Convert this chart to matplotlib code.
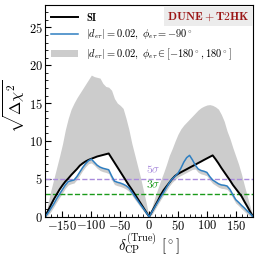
import numpy as np
import matplotlib
matplotlib.use("Agg")
import matplotlib.pyplot as plt
from matplotlib.ticker import MultipleLocator, FuncFormatter

plt.rcParams['mathtext.fontset'] = 'cm'
plt.rcParams['font.family'] = 'serif'
plt.rcParams['font.serif'] = ['DejaVu Serif']

# delta_CP grid (deg)
dcp = np.arange(-180, 181, 5)

# standard interactions
si = [0, 0.8, 1.55, 2.3, 2.95, 3.6, 4.15, 4.65, 5.05, 5.5, 5.9, 6.3, 6.75, 7.05, 7.3, 7.5,
      7.65, 7.8, 7.95, 8.05, 8.15, 8.25, 8.35, 7.75, 7.15, 6.55, 5.95, 5.35, 4.75, 4.15,
      3.6, 3.0, 2.4, 1.8, 1.2, 0.6, 0,
      0.7, 1.4, 2.1, 2.85, 3.5, 4.0, 4.5, 5.0, 5.4, 5.66, 5.87, 6.07, 6.27, 6.48, 6.68,
      6.88, 7.09, 7.29, 7.5, 7.7, 7.9, 8.1, 7.6, 7.05, 6.45, 5.9, 5.35, 4.8, 4.2, 3.7,
      3.2, 2.7, 2.0, 1.35, 0.65, 0]

# |d_etau| = 0.02, phi = -90
nsi = [0, 0.5, 1.1, 1.7, 2.4, 3.0, 3.6, 4.2, 4.65, 4.75, 4.85, 5.3, 5.9, 6.5, 7.0, 7.4,
       7.6, 7.2, 6.8, 6.55, 6.4, 6.3, 6.2, 5.4, 4.7, 4.55, 4.45, 4.3, 4.1, 3.8,
       3.25, 2.7, 2.15, 1.6, 1.1, 0.55, 0,
       0.65, 1.3, 1.95, 2.6, 3.2, 3.85, 4.5, 5.0, 5.35, 5.75, 6.4, 7.2, 7.8, 8.1, 7.5,
       6.8, 6.3, 6.1, 6.0, 5.85, 5.3, 4.85, 4.6, 4.35, 4.2, 4.15, 4.05, 3.6, 2.9, 2.25,
       1.9, 1.5, 1.15, 0.75, 0.4, 0]

# phi in [-180, 180] band
band_hi = [0, 1.8, 3.5, 5.0, 6.5, 8.0, 9.6, 11.5, 13.0, 14.2, 15.0, 15.7, 16.3, 16.9, 17.5,
           18.1, 18.7, 18.5, 18.4, 18.3, 17.6, 17.2, 17.1, 16.7, 15.6, 15.0, 14.7, 14.3,
           13.0, 11.5, 9.7, 8.2, 6.7, 5.2, 3.5, 1.8, 0,
           1.3, 2.6, 3.7, 4.8, 5.8, 6.9, 8.1, 9.0, 10.0, 10.9, 11.6, 12.1, 12.5, 12.9, 13.3,
           13.7, 14.1, 14.4, 14.6, 14.75, 14.8, 14.7, 14.5, 14.2, 13.5, 12.6, 11.3, 10.3,
           9.1, 8.0, 6.9, 5.6, 4.1, 2.7, 1.3, 0]
band_lo = [0, 0.2, 0.7, 1.3, 1.95, 2.55, 3.15, 3.75, 4.2, 4.35, 4.45, 4.9, 5.5, 6.1, 6.6,
           7.0, 7.1, 6.8, 6.4, 6.1, 5.95, 5.85, 5.7, 4.9, 4.25, 4.1, 4.0, 3.85, 3.65, 3.35,
           2.85, 2.3, 1.8, 1.25, 0.75, 0.3, 0,
           0.3, 0.95, 1.6, 2.25, 2.85, 3.45, 4.05, 4.55, 4.9, 5.25, 5.45, 5.65, 5.85, 6.05,
           6.25, 6.3, 5.85, 5.65, 5.55, 5.4, 4.85, 4.4, 4.15, 3.9, 3.75, 3.7, 3.6, 3.15,
           2.45, 1.8, 1.45, 1.05, 0.7, 0.35, 0.1, 0]

si = np.array(si)
nsi = np.array(nsi)

fig = plt.figure(figsize=(2.58, 2.58), dpi=100)
ax = fig.add_axes([0.175, 0.16, 0.806, 0.822])

band = ax.fill_between(dcp, band_lo, band_hi, color='#cccccc', lw=0,
                       label=r'$|d_{e\tau}| = 0.02,\ \phi_{e\tau} \in [-180^\circ, 180^\circ]$')
ax.fill_between(dcp, nsi, si, where=si > nsi, color='white', lw=0, interpolate=True)

ax.axhline(5, color='#a98bdc', ls='--', lw=1)
ax.axhline(3, color='#1a9a1a', ls='--', lw=1)
ax.text(8, 5.4, r'$5\sigma$', color='#a98bdc', fontsize=8.5, ha='center', va='bottom')
ax.text(8, 3.4, r'$3\sigma$', color='#1a9a1a', fontsize=8.5, ha='center', va='bottom')

l1, = ax.plot(dcp, si, color='black', lw=1.4, label=r'$\mathbf{SI}$')
l2, = ax.plot(dcp, nsi, color='#2f7fc1', lw=1.1,
              label=r'$|d_{e\tau}| = 0.02,\ \phi_{e\tau} = -90^\circ$')

ax.legend(handles=[l1, l2, band], loc='upper left', fontsize=7.5, frameon=False,
          handlelength=2.6, handletextpad=0.7, labelspacing=0.5, borderaxespad=0.2)

ax.text(0.985, 0.975, r'$\mathbf{DUNE+T2HK}$', transform=ax.transAxes, ha='right', va='top',
        fontsize=8.5, color='#9b1515',
        bbox=dict(facecolor='#ececec', edgecolor='none', pad=2.5))

ax.set_xlim(-180, 180)
ax.set_ylim(0, 28)
ax.xaxis.set_major_locator(MultipleLocator(50))
ax.xaxis.set_minor_locator(MultipleLocator(10))
ax.yaxis.set_major_locator(MultipleLocator(5))
ax.yaxis.set_minor_locator(MultipleLocator(1))
fmt = FuncFormatter(lambda v, p: r'$\mathbf{%d}$' % int(round(v)))
ax.xaxis.set_major_formatter(fmt)
ax.yaxis.set_major_formatter(fmt)
ax.tick_params(which='both', direction='in', labelsize=9, pad=1.5)
ax.tick_params(which='major', length=4, width=0.8)
ax.tick_params(which='minor', length=2, width=0.6)

ax.set_xlabel(r'$\delta_{\rm CP}^{\rm (True)}\ [^\circ]$', fontsize=10.5, labelpad=-1)
ax.set_ylabel(r'$\sqrt{\Delta\chi^2}$', fontsize=11.5)
ax.yaxis.set_label_coords(-0.085, 0.52)

fig.savefig('out.png', dpi=100)
